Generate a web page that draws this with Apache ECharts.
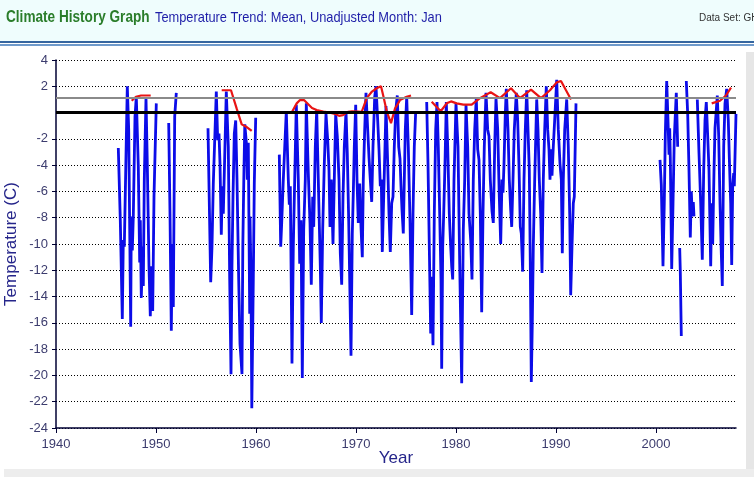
<!DOCTYPE html>
<html>
<head>
<meta charset="utf-8">
<script src="https://cdn.jsdelivr.net/npm/echarts@6/dist/echarts.min.js"></script>
<style>
html,body{margin:0;padding:0;background:#fff;}
#chart{width:754px;height:477px;}
</style>
</head>
<body>
<div id="chart"></div>
<script>
// ---- Data (year, temperature °C) ----
const xTicks = [1940, 1950, 1960, 1970, 1980, 1990, 2000];
const yTicks = [4, 2, -2, -4, -6, -8, -10, -12, -14, -16, -18, -20, -22, -24];

const blue1946 = [[1946.23,-2.7],[1946.43,-8.2],[1946.63,-15.7],[1946.73,-9.7],[1946.83,-10.2],[1947.13,2.0],[1947.27,-1.3],[1947.47,-16.3],[1947.53,-7.9],[1947.63,-10.5],[1947.73,-7.9],[1947.9,-0.3],[1948.03,1.2],[1948.23,-4.1],[1948.37,-11.4],[1948.43,-8.2],[1948.53,-14.1],[1948.67,-10.2],[1948.73,-13.2],[1948.83,-5.1],[1949.0,1.1],[1949.13,-3.9],[1949.3,-11.7],[1949.43,-15.5],[1949.53,-11.7],[1949.67,-15.1],[1949.8,-6.4],[1950.03,0.7]];
const blue1951 = [[1951.27,-0.8],[1951.4,-7.7],[1951.53,-16.6],[1951.63,-10.0],[1951.73,-14.8],[1951.87,-0.3],[1952.03,1.5]];
const blue1955 = [[1955.2,-1.2],[1955.47,-12.9],[1955.6,-10.2],[1955.73,-5.4],[1956.03,1.6],[1956.17,-2.1],[1956.3,-1.6],[1956.4,-3.9],[1956.53,-9.3],[1956.63,-5.6],[1956.73,-7.7],[1957.03,1.6],[1957.23,-2.6],[1957.37,-12.7],[1957.5,-19.9],[1957.6,-11.5],[1957.7,-6.4],[1957.83,-1.6],[1957.97,-0.6],[1958.1,-5.1],[1958.27,-12.7],[1958.4,-17.6],[1958.6,-19.9],[1958.68,-10.2],[1958.78,-5.1],[1958.88,-0.9],[1959.07,-2.6],[1959.13,-5.1],[1959.23,-2.3],[1959.37,-15.3],[1959.4,-7.9],[1959.5,-12.7],[1959.58,-22.5],[1959.73,-12.7],[1959.83,-5.4],[1959.97,-0.4]];
const blue1962 = [[1962.33,-3.2],[1962.47,-10.2],[1962.57,-8.4],[1962.73,-5.1],[1963.03,0.1],[1963.23,-5.1],[1963.33,-7.0],[1963.43,-5.6],[1963.6,-19.1],[1963.73,-10.2],[1963.87,-5.1],[1964.03,0.6],[1964.23,-5.1],[1964.37,-11.5],[1964.5,-8.2],[1964.63,-20.2],[1964.77,-8.9],[1964.93,-5.1],[1965.03,0.7],[1965.23,-4.6],[1965.4,-8.4],[1965.53,-13.1],[1965.67,-6.4],[1965.77,-8.7],[1965.93,-2.6],[1966.07,0.2],[1966.23,-5.1],[1966.43,-11.7],[1966.53,-16.0],[1966.67,-8.9],[1966.83,-3.9],[1967.0,-0.1],[1967.17,-2.1],[1967.3,-4.4],[1967.4,-8.7],[1967.53,-5.1],[1967.7,-10.0],[1967.83,-5.1],[1967.97,-0.1],[1968.13,-1.8],[1968.3,-5.1],[1968.43,-10.7],[1968.57,-13.1],[1968.7,-6.4],[1968.83,-2.6],[1969.0,0.1],[1969.13,-3.1],[1969.27,-8.2],[1969.37,-12.7],[1969.5,-18.5],[1969.63,-9.2],[1969.73,-6.1],[1969.83,-2.6],[1969.97,0.6],[1970.1,-5.1],[1970.23,-8.4],[1970.37,-5.4],[1970.5,-8.7],[1970.63,-11.0],[1970.73,-5.1],[1970.87,-1.3],[1971.0,1.5],[1971.17,-1.3],[1971.3,-3.4],[1971.43,-5.1],[1971.57,-6.8],[1971.7,-2.6],[1971.87,1.2],[1972.0,2.0],[1972.17,-0.6],[1972.3,-2.8],[1972.43,-5.6],[1972.53,-5.1],[1972.63,-10.6],[1972.77,-6.4],[1972.9,-2.6],[1973.0,0.5],[1973.17,-3.9],[1973.3,-7.7],[1973.43,-10.6],[1973.57,-6.9],[1973.7,-6.4],[1973.83,-2.6],[1973.97,0.1],[1974.13,1.3],[1974.27,-2.6],[1974.4,-3.5],[1974.5,-5.6],[1974.6,-7.4],[1974.73,-9.2],[1974.83,-5.1],[1974.93,-1.3],[1975.07,1.2],[1975.23,-2.6],[1975.4,-8.2],[1975.57,-15.4],[1975.7,-7.7],[1975.83,-2.6],[1975.97,0.1]];
const blue1977 = [[1977.07,0.8],[1977.2,-3.9],[1977.33,-10.2],[1977.47,-16.8],[1977.57,-12.5],[1977.7,-17.7],[1977.83,-7.7],[1977.97,-1.3],[1978.1,0.8],[1978.23,-2.6],[1978.37,-7.7],[1978.5,-12.7],[1978.57,-19.5],[1978.67,-10.2],[1978.77,-7.7],[1978.9,-3.9],[1979.03,0.8],[1979.17,-2.6],[1979.33,-7.7],[1979.47,-10.2],[1979.57,-11.7],[1979.67,-12.7],[1979.8,-5.1],[1980.0,0.7],[1980.2,-2.6],[1980.37,-11.5],[1980.57,-20.6],[1980.73,-8.9],[1980.87,-5.1],[1981.0,0.6],[1981.17,-2.6],[1981.3,-7.7],[1981.47,-9.7],[1981.6,-12.7],[1981.73,-5.1],[1981.87,-1.3],[1982.03,1.1],[1982.17,-2.8],[1982.3,-3.6],[1982.43,-7.7],[1982.57,-15.2],[1982.7,-7.7],[1982.83,-2.6],[1983.0,1.5],[1983.17,-1.3],[1983.3,-1.8],[1983.43,-5.1],[1983.6,-7.5],[1983.73,-8.4],[1983.87,-2.6],[1984.0,1.1],[1984.17,-1.3],[1984.33,-6.4],[1984.47,-10.0],[1984.6,-5.1],[1984.7,-6.1],[1984.8,-3.9],[1984.93,-0.1],[1985.03,1.8],[1985.2,-1.3],[1985.33,-5.1],[1985.47,-7.4],[1985.57,-8.7],[1985.7,-5.1],[1985.83,-1.3],[1986.03,1.5],[1986.17,-0.6],[1986.3,-4.1],[1986.43,-8.7],[1986.53,-9.2],[1986.67,-12.1],[1986.8,-5.1],[1986.93,-1.3],[1987.07,1.7],[1987.2,-1.3],[1987.33,-4.4],[1987.43,-11.5],[1987.53,-20.5],[1987.63,-16.0],[1987.73,-10.2],[1987.87,-5.1],[1988.07,1.0],[1988.2,-1.3],[1988.33,-5.1],[1988.47,-7.7],[1988.6,-12.2],[1988.73,-5.1],[1988.87,-1.3],[1989.03,2.0],[1989.17,-1.3],[1989.3,-2.8],[1989.4,-5.1],[1989.5,-2.8],[1989.6,-4.8],[1989.73,-2.6],[1989.9,-0.1],[1990.07,2.5],[1990.23,-1.3],[1990.4,-3.9],[1990.53,-5.1],[1990.63,-10.7],[1990.73,-5.1],[1990.87,-1.3],[1991.07,1.0],[1991.23,-2.6],[1991.37,-7.7],[1991.47,-13.9],[1991.6,-10.2],[1991.73,-6.9],[1991.83,-6.4],[1992.0,0.7]];
const blue2000 = [[2000.4,-3.6],[2000.53,-5.5],[2000.7,-11.7],[2000.83,-6.8],[2000.93,-1.7],[2001.07,2.4],[2001.2,-0.6],[2001.3,-3.2],[2001.37,-1.2],[2001.43,-3.4],[2001.57,-11.9],[2001.7,-7.0],[2001.83,-1.9],[2002.03,1.5],[2002.17,-2.6]];
const blue2002 = [[2002.37,-10.3],[2002.43,-12.1],[2002.53,-17.0]];
const blue2003 = [[2003.03,2.4],[2003.17,-0.1],[2003.3,-4.4],[2003.43,-9.5],[2003.53,-6.0],[2003.63,-7.9],[2003.73,-6.8],[2003.8,-7.9]];
const blue2004 = [[2004.13,1.0],[2004.3,-3.1],[2004.47,-6.9],[2004.63,-11.2],[2004.77,-4.4],[2004.9,-0.6],[2005.03,0.8],[2005.17,-1.8],[2005.3,-4.4],[2005.47,-11.7],[2005.57,-6.9],[2005.67,-10.0],[2005.8,-4.4],[2005.9,-1.2],[2006.03,0.2],[2006.13,1.3],[2006.27,-1.8],[2006.4,-6.9],[2006.53,-10.7],[2006.63,-13.2],[2006.77,-2.6],[2006.9,0.7],[2007.07,1.8],[2007.23,-0.6],[2007.33,-3.4],[2007.47,-6.9],[2007.57,-11.6],[2007.67,-5.6],[2007.77,-4.6],[2007.83,-5.6],[2008.0,-0.1]];

const red1947 = [[1947.57,0.9],[1948.0,1.2],[1948.5,1.3],[1949.47,1.3]];
const red1956 = [[1956.57,1.7],[1957.5,1.7],[1958.07,0.3],[1958.57,-0.9],[1959.07,-1.1],[1959.57,-1.4]];
const red1963 = [[1963.57,0.0],[1964.07,0.7],[1964.4,0.95],[1964.8,0.95],[1965.2,0.65],[1965.6,0.35],[1966.07,0.2],[1966.73,0.07],[1967.4,0.0],[1967.9,-0.1],[1968.3,-0.25],[1968.7,-0.2],[1969.2,0.05],[1969.6,0.1],[1970.23,0.07],[1970.57,0.05],[1971.07,1.1],[1971.6,1.6],[1972.07,1.85],[1972.5,2.0],[1972.75,1.2],[1973.07,0.1],[1973.5,-0.8],[1973.9,0.3],[1974.4,0.95],[1975.07,1.2],[1975.5,1.3]];
const red1977 = [[1977.57,0.83],[1978.47,0.1],[1979.07,0.7],[1979.5,0.85],[1980.07,0.7],[1980.73,0.6],[1981.57,0.6],[1982.4,1.1],[1983.47,1.55],[1984.4,1.1],[1985.5,1.85],[1986.4,1.1],[1987.5,1.75],[1988.5,1.1],[1989.4,1.7],[1990.07,2.3],[1990.5,2.4],[1991.5,1.0]];
const red2005 = [[2005.57,0.7],[2006.4,0.9],[2007.0,1.3],[2007.5,1.9]];

const zeroLine = 0;
const meanLine = 1.1;

// ---- Chart ----
const blueSegments = [blue1946, blue1951, blue1955, blue1962, blue1977, blue2000, blue2002, blue2003, blue2004];
const redSegments = [red1947, red1956, red1963, red1977, red2005];

const chart = echarts.init(document.getElementById('chart'), null, {renderer: 'canvas'});
const axisTextColor = '#3c3c6e';
const sans = "'Liberation Sans', Arial, sans-serif";

const series = [];
blueSegments.forEach(seg => series.push({
  type: 'line', data: seg, symbol: 'none', z: 2, silent: true,
  lineStyle: {color: '#0c0ce8', width: 2.8}
}));
series.push({
  type: 'line', data: [], symbol: 'none', z: 3, silent: true,
  markLine: {
    symbol: 'none', silent: true, animation: false,
    label: {show: false},
    data: [
      {yAxis: meanLine, lineStyle: {color: '#8a8a8a', width: 2, type: 'solid'}},
      {yAxis: zeroLine, lineStyle: {color: '#000000', width: 3, type: 'solid'}}
    ]
  }
});
redSegments.forEach(seg => series.push({
  type: 'line', data: seg, symbol: 'none', z: 4, silent: true,
  lineStyle: {color: '#e81414', width: 2.2}
}));

chart.setOption({
  animation: false,
  backgroundColor: '#ffffff',
  graphic: [
    {type: 'rect', shape: {x: 0, y: 0, width: 754, height: 41}, style: {fill: '#effdfd'}, z: -10},
    {type: 'rect', shape: {x: 0, y: 41, width: 754, height: 2}, style: {fill: '#35659f'}, z: -9},
    {type: 'rect', shape: {x: 0, y: 44, width: 754, height: 2}, style: {fill: '#6f9acb'}, z: -9},
    {type: 'rect', shape: {x: 746, y: 52, width: 8, height: 425}, style: {fill: '#e6e6e6'}, z: -9},
    {type: 'rect', shape: {x: 4, y: 469, width: 750, height: 8}, style: {fill: '#ededed'}, z: -9},
    {type: 'text', x: 6, y: 18, scaleX: 0.85, style: {text: 'Climate History Graph', font: 'bold 16px ' + sans, fill: '#2a7d2a', textVerticalAlign: 'middle'}, z: 10},
    {type: 'text', x: 155, y: 18, scaleX: 0.855, style: {text: 'Temperature Trend: Mean, Unadjusted Month: Jan', font: '15px ' + sans, fill: '#1e1ea8', textVerticalAlign: 'middle'}, z: 10},
    {type: 'text', x: 699, y: 18, style: {text: 'Data Set: GHCN', font: '10px ' + sans, fill: '#333333', textVerticalAlign: 'middle'}, z: 10}
  ],
  grid: {left: 56, right: 18, top: 60, bottom: 49, containLabel: false, outerBoundsMode: 'none'},
  xAxis: {
    type: 'value', min: 1940, max: 2008, interval: 10,
    axisLine: {show: true, onZero: false, lineStyle: {color: '#000033', width: 1.5}},
    axisTick: {show: true, length: 5, customValues: xTicks, lineStyle: {color: '#000033'}},
    axisLabel: {customValues: xTicks, formatter: v => String(v), color: axisTextColor, fontSize: 13, fontFamily: sans, margin: 10},
    splitLine: {show: false},
    name: 'Year', nameLocation: 'middle', nameGap: 22, nameMoveOverlap: false,
    nameTextStyle: {color: '#25258a', fontSize: 17, fontFamily: sans}
  },
  yAxis: {
    type: 'value', min: -24, max: 4, interval: 2,
    axisLine: {show: true, onZero: false, lineStyle: {color: '#000033', width: 1.5}},
    axisTick: {show: true, length: 4, customValues: yTicks, lineStyle: {color: '#000033'}},
    axisLabel: {customValues: yTicks, formatter: v => String(v), color: axisTextColor, fontSize: 13, fontFamily: sans, margin: 8},
    splitLine: {show: true, lineStyle: {color: '#000000', width: 1, type: [1, 2]}},
    name: 'Temperature (C)', nameLocation: 'middle', nameGap: 36, nameRotate: 90, nameMoveOverlap: false,
    nameTextStyle: {color: '#25258a', fontSize: 17, fontFamily: sans}
  },
  series: series
});
</script>
</body>
</html>
